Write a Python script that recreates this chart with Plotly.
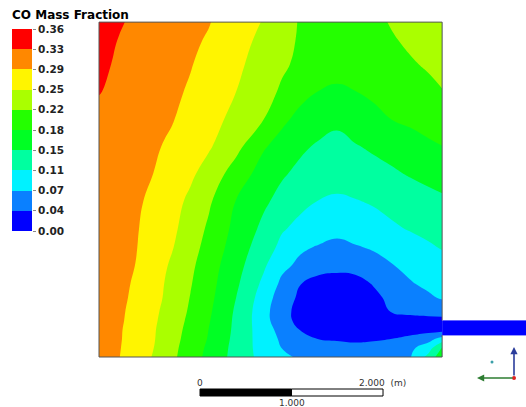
import plotly.graph_objects as go

# CO mass fraction in the chamber section, sampled on a rectangular grid (metres)
x_m = [0, 0.2, 0.4, 0.6, 0.8, 1.0, 1.2, 1.5, 1.8, 2.0, 2.2, 2.4, 2.6, 2.8, 3.0, 3.2, 3.4, 3.6, 3.75]
y_m = [0, 0.1, 0.2, 0.3, 0.4, 0.5, 0.65, 0.8, 1.0, 1.2, 1.4, 1.7, 2.0, 2.3, 2.6, 2.9, 3.2, 3.45, 3.66]
co = [
    [0.305, 0.293, 0.274, 0.251, 0.225, 0.198, 0.172, 0.132, 0.096, 0.078, 0.069, 0.063, 0.057, 0.052, 0.054, 0.060, 0.070, 0.120, 0.170],
    [0.305, 0.294, 0.276, 0.254, 0.227, 0.201, 0.175, 0.133, 0.093, 0.072, 0.065, 0.058, 0.050, 0.045, 0.047, 0.053, 0.065, 0.090, 0.150],
    [0.306, 0.295, 0.277, 0.256, 0.230, 0.204, 0.179, 0.135, 0.091, 0.067, 0.048, 0.035, 0.032, 0.030, 0.032, 0.036, 0.045, 0.060, 0.085],
    [0.306, 0.295, 0.279, 0.257, 0.232, 0.207, 0.181, 0.137, 0.089, 0.060, 0.035, 0.022, 0.012, 0.010, 0.012, 0.016, 0.020, 0.022, 0.022],
    [0.307, 0.296, 0.281, 0.259, 0.235, 0.210, 0.184, 0.138, 0.087, 0.047, 0.028, 0.018, 0.006, 0.008, 0.012, 0.018, 0.024, 0.025, 0.026],
    [0.307, 0.297, 0.282, 0.261, 0.238, 0.213, 0.187, 0.140, 0.087, 0.045, 0.028, 0.019, 0.008, 0.018, 0.027, 0.038, 0.045, 0.050, 0.052],
    [0.308, 0.298, 0.285, 0.265, 0.242, 0.2165, 0.191, 0.145, 0.092, 0.054, 0.030, 0.022, 0.012, 0.022, 0.030, 0.043, 0.056, 0.068, 0.076],
    [0.308, 0.299, 0.287, 0.267, 0.244, 0.220, 0.194, 0.151, 0.101, 0.065, 0.037, 0.026, 0.025, 0.027, 0.038, 0.056, 0.070, 0.079, 0.085],
    [0.309, 0.300, 0.290, 0.270, 0.249, 0.225, 0.198, 0.158, 0.114, 0.081, 0.065, 0.048, 0.044, 0.046, 0.061, 0.071, 0.081, 0.091, 0.098],
    [0.309, 0.300, 0.292, 0.275, 0.256, 0.232, 0.205, 0.165, 0.126, 0.100, 0.078, 0.070, 0.066, 0.070, 0.076, 0.086, 0.096, 0.105, 0.111],
    [0.310, 0.302, 0.293, 0.279, 0.261, 0.238, 0.212, 0.171, 0.137, 0.112, 0.100, 0.090, 0.080, 0.088, 0.096, 0.104, 0.111, 0.117, 0.122],
    [0.311, 0.303, 0.295, 0.284, 0.266, 0.247, 0.223, 0.180, 0.151, 0.134, 0.117, 0.108, 0.105, 0.107, 0.112, 0.119, 0.126, 0.134, 0.139],
    [0.312, 0.305, 0.298, 0.290, 0.275, 0.260, 0.240, 0.201, 0.166, 0.149, 0.137, 0.126, 0.119, 0.127, 0.134, 0.140, 0.148, 0.155, 0.160],
    [0.314, 0.307, 0.301, 0.294, 0.285, 0.271, 0.258, 0.228, 0.185, 0.168, 0.151, 0.141, 0.137, 0.143, 0.150, 0.158, 0.167, 0.176, 0.181],
    [0.318, 0.312, 0.305, 0.299, 0.292, 0.280, 0.267, 0.244, 0.218, 0.189, 0.172, 0.160, 0.151, 0.162, 0.172, 0.182, 0.188, 0.194, 0.199],
    [0.328, 0.320, 0.312, 0.304, 0.296, 0.287, 0.274, 0.254, 0.230, 0.213, 0.192, 0.181, 0.178, 0.181, 0.188, 0.196, 0.203, 0.211, 0.217],
    [0.332, 0.324, 0.316, 0.308, 0.300, 0.292, 0.281, 0.261, 0.239, 0.223, 0.211, 0.201, 0.190, 0.196, 0.203, 0.209, 0.215, 0.221, 0.224],
    [0.335, 0.3265, 0.319, 0.311, 0.304, 0.296, 0.287, 0.267, 0.245, 0.228, 0.214, 0.205, 0.196, 0.200, 0.208, 0.215, 0.222, 0.228, 0.232],
    [0.340, 0.330, 0.322, 0.314, 0.307, 0.299, 0.292, 0.272, 0.252, 0.232, 0.215, 0.207, 0.197, 0.203, 0.211, 0.220, 0.227, 0.234, 0.240],
]

# outlet duct leaving the right wall
duct_x = [3.75, 4.70]
duct_y = [0.24, 0.40]
duct_co = [[0.02]]

# legend levels and colours
levels = [0.0, 0.0363, 0.0726, 0.1089, 0.1452, 0.1815, 0.2178, 0.2541, 0.2904, 0.3267, 0.3630]
level_labels = ["0.00", "0.04", "0.07", "0.11", "0.15", "0.18", "0.22", "0.25", "0.29", "0.33", "0.36"]
band_colors = ["#0000ff", "#0a80ff", "#00f2ff", "#00ffa0", "#00ff24", "#24ff00",
               "#aaff00", "#fff500", "#ff8800", "#ff0000"]

# scale bar (metres along x)
scale_start = 1.104
scale_length = 2.0

# ---- page geometry (pixels) ----
W, H = 526, 407
PL, PR, PT, PB = 97, 526, 20, 359       # field plot area
BL, BR, BT, BB = 12, 32, 29, 231        # legend bar
PX_PER_M = 91.5
X0_PX, Y0_PX = 99, 357                  # pixel position of the domain origin


def fx(px):
    return px / W


def fy(py):
    return (H - py) / H


n = len(band_colors)
stepped = []
for k, c in enumerate(band_colors):
    stepped.append([k / n, c])
    stepped.append([(k + 1) / n, c])

step = levels[1] - levels[0]

fig = go.Figure()
fig.add_trace(go.Contour(
    x=x_m, y=y_m, z=co,
    autocontour=False,
    contours=dict(start=levels[1], end=levels[-2] + step * 0.001, size=step,
                  coloring="fill", showlines=False),
    line=dict(width=0, smoothing=1.3),
    colorscale=stepped, showscale=False,
    hoverinfo="skip",
))

fig.add_trace(go.Heatmap(
    x=duct_x, y=duct_y, z=duct_co,
    zmin=levels[0], zmax=levels[-1],
    colorscale=stepped, showscale=False, hoverinfo="skip",
))

# legend bar: one cell per band, coloured by the band's middle value
band_mid = [[(levels[i] + levels[i + 1]) / 2] for i in range(n)]
fig.add_trace(go.Heatmap(
    x=[0, 1], y=levels, z=band_mid,
    zmin=levels[0], zmax=levels[-1],
    colorscale=stepped, showscale=False, hoverinfo="skip",
    xaxis="x2", yaxis="y2",
))

# domain outline (open where the duct leaves)
wall = dict(type="line", xref="x", yref="y", line=dict(color="#555", width=1))
x_end, y_end = x_m[-1], y_m[-1]
shapes = [
    dict(wall, x0=0, y0=0, x1=0, y1=y_end),
    dict(wall, x0=0, y0=y_end, x1=x_end, y1=y_end),
    dict(wall, x0=0, y0=0, x1=x_end, y1=0),
    dict(wall, x0=x_end, y0=0, x1=x_end, y1=duct_y[0]),
    dict(wall, x0=x_end, y0=duct_y[1], x1=x_end, y1=y_end),
]

# scale bar
half = scale_length / 2
shapes += [
    dict(type="rect", xref="x", yref="paper", x0=scale_start, x1=scale_start + half,
         y0=fy(396), y1=fy(389), fillcolor="black", line=dict(color="black", width=1)),
    dict(type="rect", xref="x", yref="paper", x0=scale_start + half, x1=scale_start + scale_length,
         y0=fy(396), y1=fy(389), fillcolor="white", line=dict(color="black", width=1)),
]

# axis triad dots
shapes += [
    dict(type="circle", xref="paper", yref="paper", x0=fx(512), x1=fx(516), y0=fy(380), y1=fy(376),
         fillcolor="#e02020", line=dict(width=0)),
    dict(type="circle", xref="paper", yref="paper", x0=fx(490.5), x1=fx(493.5), y0=fy(363.5), y1=fy(360.5),
         fillcolor="#3a9fa8", line=dict(width=0)),
]

small = dict(family="DejaVu Sans", size=9, color="#333")
annotations = [
    dict(text="CO Mass Fraction", xref="paper", yref="paper", x=fx(10), y=fy(15),
         xanchor="left", yanchor="middle", showarrow=False,
         font=dict(family="DejaVu Sans", size=12, color="black", weight="bold")),
    dict(text="0", xref="x", yref="paper", x=scale_start, y=fy(383),
         xanchor="center", yanchor="middle", showarrow=False, font=small),
    dict(text="%.3f" % scale_length + "  (m)", xref="x", yref="paper",
         x=scale_start + scale_length - 0.28, y=fy(383),
         xanchor="left", yanchor="middle", showarrow=False, font=small),
    dict(text="%.3f" % half, xref="x", yref="paper", x=scale_start + half, y=fy(403),
         xanchor="center", yanchor="middle", showarrow=False, font=small),
    # triad arrows
    dict(text="", xref="paper", yref="paper", x=fx(514), y=fy(347), ax=0, ay=30,
         showarrow=True, arrowhead=2, arrowsize=0.9, arrowwidth=1.6, arrowcolor="#2c3e9c", standoff=0),
    dict(text="", xref="paper", yref="paper", x=fx(477), y=fy(378), ax=37, ay=0,
         showarrow=True, arrowhead=2, arrowsize=0.9, arrowwidth=1.6, arrowcolor="#2e7d32", standoff=0),
]

fig.update_layout(
    width=W, height=H, autosize=False,
    margin=dict(l=0, r=0, t=0, b=0, autoexpand=False),
    paper_bgcolor="white", plot_bgcolor="white",
    xaxis=dict(visible=False, domain=[fx(PL), fx(PR)],
               range=[(PL - X0_PX) / PX_PER_M, (PR - X0_PX) / PX_PER_M]),
    yaxis=dict(visible=False, domain=[fy(PB), fy(PT)],
               range=[(Y0_PX - PB) / PX_PER_M, (Y0_PX - PT) / PX_PER_M]),
    xaxis2=dict(visible=False, domain=[fx(BL), fx(BR)], range=[0, 1], anchor="y2"),
    yaxis2=dict(domain=[fy(BB), fy(BT)], range=[levels[0], levels[-1]], anchor="x2",
                side="right", tickmode="array", tickvals=levels, ticktext=level_labels,
                ticks="outside", ticklen=3, tickwidth=1, tickcolor="#888",
                showgrid=False, zeroline=False, showline=False,
                tickfont=dict(family="DejaVu Sans", size=10.5, color="#222", weight="bold")),
    shapes=shapes, annotations=annotations, showlegend=False,
)

fig.write_html("out.html")
